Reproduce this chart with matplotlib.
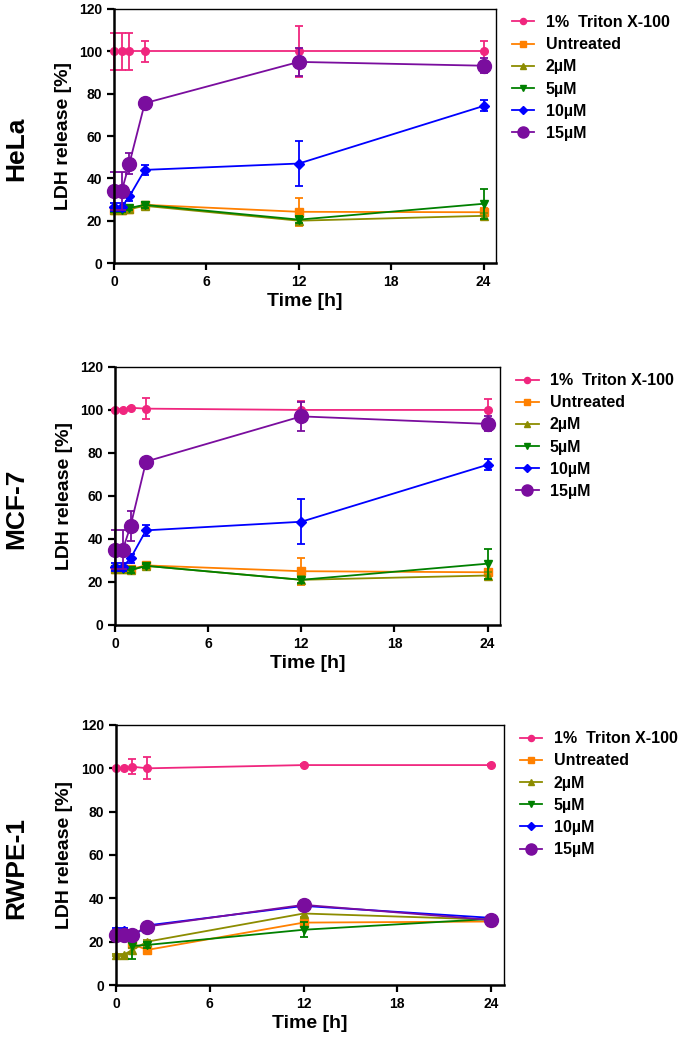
import matplotlib
matplotlib.use("Agg")
import matplotlib.pyplot as plt

plt.rcParams['font.family'] = ['Liberation Sans', 'DejaVu Sans']
plt.rcParams['font.weight'] = 'bold'

# Temps de mesure (h)
time_h = [0, 0.5, 1, 2, 12, 24]
series_names = ['1%  Triton X-100', 'Untreated', '2µM', '5µM', '10µM', '15µM']
cell_lines = ['HeLa', 'MCF-7', 'RWPE-1']

# HeLa : moyennes et écarts
hela_mean = [
    [100, 100, 100, 100, 100, 100],
    [25, 25, 25.5, 27.5, 24.2, 24],
    [25, 25, 25.5, 27, 20, 22.3],
    [25, 25, 26, 27.5, 20.5, 28],
    [26.5, 26.5, 31.5, 44, 47, 74.2],
    [34, 34, 47, 75.5, 95, 93.2],
]
hela_err = [
    [8.7, 8.7, 8.7, 5, 12, 5],
    [1, 1, 1, 1, 6.5, 2],
    [1, 1, 1, 1, 2, 1.5],
    [1, 1, 1, 1.5, 1.5, 7],
    [2, 2, 2, 2.5, 10.5, 2.6],
    [9, 9, 5, 1, 6.5, 3.5],
]

# MCF-7
mcf7_mean = [
    [100, 100, 101, 100.6, 100, 100],
    [26, 26, 26, 27.7, 25, 24.5],
    [26, 26, 25.5, 27.5, 21, 23],
    [26, 26, 25.5, 27.5, 21, 28.5],
    [27, 27, 31, 44, 48, 74.5],
    [35, 35, 46, 76, 97, 93.5],
]
mcf7_err = [
    [0.5, 0.5, 0.5, 5, 4, 5],
    [1, 1, 1, 1, 6.3, 1.5],
    [1, 1, 1, 1, 2, 1.5],
    [1, 1, 1.5, 1, 1.5, 7],
    [2, 2, 2, 2.5, 10.5, 2.5],
    [9, 9, 7, 1, 6.6, 3.5],
]

# RWPE-1
rwpe_mean = [
    [100, 100, 100.8, 100, 101.5, 101.5],
    [22.5, 22.5, 19, 16.2, 28.8, 29.3],
    [14, 14, 16, 20, 33, 30.2],
    [23, 23, 18, 18.5, 25.5, 30.5],
    [25, 25, 22, 27.5, 36.5, 31],
    [23, 23, 23, 27, 37, 30],
]
rwpe_err = [
    [0.3, 0.3, 3.3, 5, 0.5, 0.5],
    [1, 1, 2, 1, 2, 1],
    [0.5, 0.5, 1, 1, 1.5, 1],
    [1, 1, 6, 1.5, 3.5, 1],
    [1.5, 1.5, 1, 1, 1.5, 1],
    [1, 1, 1, 1, 1.5, 1.5],
]

all_means = [hela_mean, mcf7_mean, rwpe_mean]
all_errs = [hela_err, mcf7_err, rwpe_err]

colors = ['#F0267E', '#FF8000', '#8C8C00', '#008000', '#0000FF', '#7A0D9E']
markers = ['o', 's', '^', 'v', 'D', 'o']
msizes = [5.5, 5.5, 5.5, 5.5, 5, 10]

# Position des axes (fraction de la figure)
axes_pos = [
    [0.1664, 0.7478, 0.5577, 0.2436],
    [0.1679, 0.4008, 0.5620, 0.2474],
    [0.1693, 0.0556, 0.5660, 0.2493],
]

fig = plt.figure(figsize=(6.85, 10.43), dpi=100)

for p in range(3):
    ax = fig.add_axes(axes_pos[p])
    for i in range(6):
        ax.errorbar(time_h, all_means[p][i], yerr=all_errs[p][i], fmt='none',
                    ecolor=colors[i], elinewidth=1.3, capsize=3, capthick=1.3,
                    clip_on=False)
        ax.plot(time_h, all_means[p][i], color=colors[i], marker=markers[i],
                markersize=msizes[i], linewidth=1.3, label=series_names[i],
                clip_on=False)

    ax.set_xlim(0, 24.8)
    ax.set_ylim(0, 120)
    ax.set_xticks([0, 6, 12, 18, 24])
    ax.set_yticks(range(0, 121, 20))
    ax.tick_params(axis='both', labelsize=10, width=1.6, length=5, direction='out')
    for lab in ax.get_xticklabels() + ax.get_yticklabels():
        lab.set_fontweight('bold')
    ax.spines['left'].set_linewidth(1.8)
    ax.spines['bottom'].set_linewidth(1.8)
    ax.spines['top'].set_linewidth(1.0)
    ax.spines['right'].set_linewidth(1.0)

    ax.set_ylabel('LDH release [%]', fontsize=14, fontweight='bold')
    ax.yaxis.set_label_coords(-0.11, 0.5)
    ax.set_xlabel('Time [h]', fontsize=14, fontweight='bold', labelpad=3)

    ax.legend(loc='upper left', bbox_to_anchor=(1.042, 0.976), frameon=False,
              fontsize=11.5, borderpad=0, borderaxespad=0, labelspacing=0.45,
              handlelength=1.4, handletextpad=0.7, markerscale=0.8)

    # Nom de la lignée cellulaire
    x0, y0, w, h = axes_pos[p]
    fig.text(0.023, y0 + h * 0.45, cell_lines[p], rotation=90, fontsize=19,
             fontweight='bold', ha='center', va='center')

fig.savefig('out.png', dpi=100)
